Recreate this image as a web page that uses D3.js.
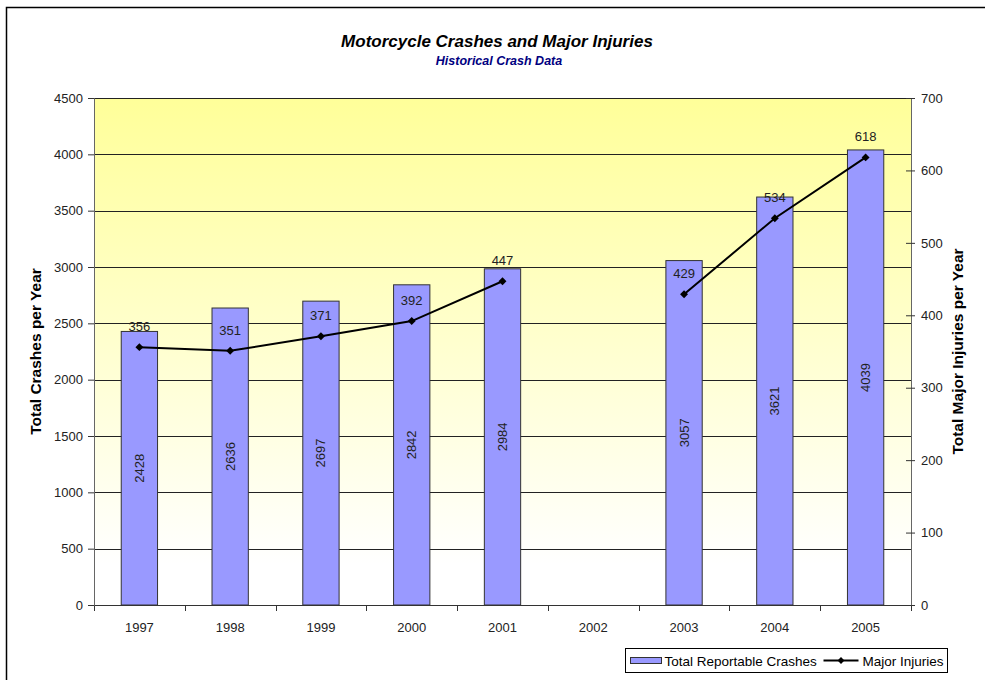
<!DOCTYPE html>
<html>
<head>
<meta charset="utf-8">
<script src="https://cdn.jsdelivr.net/npm/d3@7"></script>
<style>
  body { margin: 0; background: #fff; }
  svg { display: block; font-family: "Liberation Sans", Arial, sans-serif; }
</style>
</head>
<body>
<svg id="chart"></svg>
<script>
// chart data
const years = ['1997', '1998', '1999', '2000', '2001', '2002', '2003', '2004', '2005'];
const crashes = [2428, 2636, 2697, 2842, 2984, null, 3057, 3621, 4039];
const injuries = [356, 351, 371, 392, 447, null, 429, 534, 618];
const crashTicks = [0, 500, 1000, 1500, 2000, 2500, 3000, 3500, 4000, 4500];
const injuryTicks = [0, 100, 200, 300, 400, 500, 600, 700];

const width = 985;
const height = 680;
const margin = { top: 98, bottom: 75, left: 94, right: 74 };
const innerWidth = width - margin.left - margin.right;
const innerHeight = height - margin.top - margin.bottom;
const fontFamily = '"Liberation Sans", Arial, sans-serif';

const svg = d3.select('#chart')
  .attr('width', width)
  .attr('height', height);

// outer chart border: only the left and top sides are inside the picture
svg.append('path')
  .attr('d', `M6.5,${height} V7.5 H${width}`)
  .attr('fill', 'none')
  .attr('stroke', '#000')
  .attr('stroke-width', 1.5);

const defs = svg.append('defs');
const grad = defs.append('linearGradient')
  .attr('id', 'bg')
  .attr('x1', 0).attr('y1', 0).attr('x2', 0).attr('y2', 1);
grad.append('stop').attr('offset', '0%').attr('stop-color', '#ffff99');
grad.append('stop').attr('offset', '92%').attr('stop-color', '#ffffff');

// titles
svg.append('text')
  .attr('x', 497).attr('y', 47)
  .attr('text-anchor', 'middle')
  .style('font-size', '17px')
  .style('font-style', 'italic')
  .style('font-weight', 'bold')
  .text('Motorcycle Crashes and Major Injuries');

svg.append('text')
  .attr('x', 499).attr('y', 65)
  .attr('text-anchor', 'middle')
  .style('font-size', '12.5px')
  .style('font-style', 'italic')
  .style('font-weight', 'bold')
  .attr('fill', '#000080')
  .text('Historical Crash Data');

const g = svg.append('g')
  .attr('transform', `translate(${margin.left}, ${margin.top})`);

const xScale = d3.scaleBand()
  .domain(years)
  .range([0, innerWidth])
  .paddingInner(0.6)
  .paddingOuter(0.3);

const xBand = d3.scaleBand()
  .domain(years)
  .range([0, innerWidth]);

const yLeft = d3.scaleLinear()
  .domain([0, 4500])
  .range([innerHeight, 0]);

const yRight = d3.scaleLinear()
  .domain([0, 700])
  .range([innerHeight, 0]);

// plot background
g.append('rect')
  .attr('width', innerWidth)
  .attr('height', innerHeight)
  .attr('fill', 'url(#bg)');

// gridlines
g.selectAll('.grid')
  .data(crashTicks.filter(d => d > 0))
  .join('line')
  .attr('class', 'grid')
  .attr('x1', 0).attr('x2', innerWidth)
  .attr('y1', d => Math.round(yLeft(d)) + 0.5)
  .attr('y2', d => Math.round(yLeft(d)) + 0.5)
  .attr('stroke', '#222')
  .attr('stroke-width', 1);

const barData = years.map((y, i) => ({ year: y, value: crashes[i] })).filter(d => d.value != null);

// bars
g.selectAll('.bar')
  .data(barData)
  .join('rect')
  .attr('class', 'bar')
  .attr('x', d => xScale(d.year))
  .attr('y', d => yLeft(d.value))
  .attr('width', xScale.bandwidth())
  .attr('height', d => innerHeight - yLeft(d.value))
  .attr('fill', '#9999ff')
  .attr('stroke', '#333')
  .attr('stroke-width', 1);

// bar labels (rotated, centred in bar)
g.selectAll('.bar-label')
  .data(barData)
  .join('text')
  .attr('class', 'bar-label')
  .attr('transform', d => {
    const cx = xScale(d.year) + xScale.bandwidth() / 2;
    const cy = (yLeft(d.value) + innerHeight) / 2;
    return `translate(${cx + 4.5}, ${cy}) rotate(-90)`;
  })
  .attr('text-anchor', 'middle')
  .style('font-size', '13px')
  .attr('fill', '#222')
  .text(d => d.value);

// x axis
const xAxis = g.append('g')
  .attr('transform', `translate(0, ${innerHeight})`);
xAxis.append('line')
  .attr('x1', 0).attr('x2', innerWidth)
  .attr('y1', 0.5).attr('y2', 0.5)
  .attr('stroke', '#333');
xAxis.selectAll('.xtick')
  .data(d3.range(years.length + 1))
  .join('line')
  .attr('x1', i => Math.round(i * xBand.step()) + 0.5)
  .attr('x2', i => Math.round(i * xBand.step()) + 0.5)
  .attr('y1', 0).attr('y2', 6)
  .attr('stroke', '#333');
xAxis.selectAll('.xlabel')
  .data(years)
  .join('text')
  .attr('x', d => xBand(d) + xBand.bandwidth() / 2)
  .attr('y', 27)
  .attr('text-anchor', 'middle')
  .style('font-size', '13px')
  .attr('fill', '#222')
  .text(d => d);

// y axes
const leftAxis = g.append('g')
  .call(d3.axisLeft(yLeft).tickValues(crashTicks).tickFormat(d3.format('d')).tickSize(6).tickPadding(5))
  .attr('font-size', 13)
  .attr('font-family', fontFamily);
leftAxis.select('.domain').attr('stroke', '#666');
leftAxis.selectAll('.tick line').attr('stroke', '#333');
leftAxis.selectAll('.tick text').attr('fill', '#222');

const rightAxis = g.append('g')
  .attr('transform', `translate(${innerWidth}, 0)`)
  .call(d3.axisRight(yRight).tickValues(injuryTicks).tickFormat(d3.format('d')).tickSize(4).tickPadding(6))
  .attr('font-size', 13)
  .attr('font-family', fontFamily);
rightAxis.select('.domain').attr('stroke', '#666');
rightAxis.selectAll('.tick line').attr('x1', -5).attr('stroke', '#333');
rightAxis.selectAll('.tick text').attr('fill', '#222');

// axis titles
svg.append('text')
  .attr('transform', `translate(41, ${margin.top + innerHeight / 2}) rotate(-90)`)
  .attr('text-anchor', 'middle')
  .style('font-size', '15.5px')
  .style('font-weight', 'bold')
  .text('Total Crashes per Year');

svg.append('text')
  .attr('transform', `translate(963, ${margin.top + innerHeight / 2}) rotate(-90)`)
  .attr('text-anchor', 'middle')
  .style('font-size', '15.5px')
  .style('font-weight', 'bold')
  .text('Total Major Injuries per Year');

// injuries line (gap for 2002)
const lineData = years.map((y, i) => ({ year: y, value: injuries[i] }));
const lineGen = d3.line()
  .defined(d => d.value != null)
  .x(d => xBand(d.year) + xBand.bandwidth() / 2)
  .y(d => yRight(d.value));

g.append('path')
  .datum(lineData)
  .attr('d', lineGen)
  .attr('fill', 'none')
  .attr('stroke', '#000')
  .attr('stroke-width', 2);

const points = lineData.filter(d => d.value != null);
g.selectAll('.marker')
  .data(points)
  .join('path')
  .attr('class', 'marker')
  .attr('d', d3.symbol(d3.symbolDiamond2, 40))
  .attr('transform', d => `translate(${xBand(d.year) + xBand.bandwidth() / 2}, ${yRight(d.value)})`)
  .attr('fill', '#000');

g.selectAll('.point-label')
  .data(points)
  .join('text')
  .attr('class', 'point-label')
  .attr('x', d => xBand(d.year) + xBand.bandwidth() / 2)
  .attr('y', d => yRight(d.value) - 16)
  .attr('text-anchor', 'middle')
  .style('font-size', '13px')
  .attr('fill', '#222')
  .text(d => d.value);

// legend
const legend = svg.append('g')
  .attr('transform', 'translate(625.5, 648.5)');
legend.append('rect')
  .attr('width', 322).attr('height', 24)
  .attr('fill', '#fff')
  .attr('stroke', '#000');
legend.append('rect')
  .attr('x', 5).attr('y', 9)
  .attr('width', 31).attr('height', 6)
  .attr('fill', '#9999ff')
  .attr('stroke', '#333');
legend.append('text')
  .attr('x', 39).attr('y', 17)
  .style('font-size', '13.5px')
  .text('Total Reportable Crashes');
legend.append('line')
  .attr('x1', 198).attr('x2', 233)
  .attr('y1', 12).attr('y2', 12)
  .attr('stroke', '#000').attr('stroke-width', 2);
legend.append('path')
  .attr('d', d3.symbol(d3.symbolDiamond2, 30))
  .attr('transform', 'translate(215.5, 12)')
  .attr('fill', '#000');
legend.append('text')
  .attr('x', 237).attr('y', 17)
  .style('font-size', '13.5px')
  .text('Major Injuries');
</script>
</body>
</html>
